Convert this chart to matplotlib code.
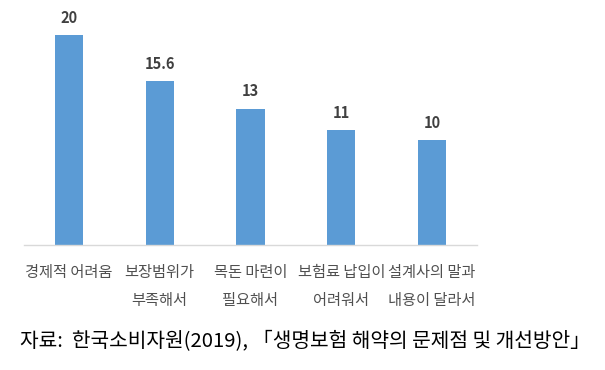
import matplotlib
matplotlib.use("Agg")
import matplotlib.pyplot as plt
from matplotlib.transforms import offset_copy

plt.rcParams['font.family'] = ['Noto Sans CJK KR', 'DejaVu Sans']

categories = ["경제적 어려움", "보장범위가\n부족해서", "목돈 마련이\n필요해서",
              "보험료 납입이\n어려워서", "설계사의 말과\n내용이 달라서"]
values = [20, 15.6, 13, 11, 10]
value_labels = ["20", "15.6", "13", "11", "10"]
source = "자료:  한국소비자원(2019), 「생명보험 해약의 문제점 및 개선방안」"

fig = plt.figure(figsize=(6.05, 3.7), dpi=100)
ax = fig.add_axes([23.6 / 605, 125 / 370, 453.75 / 605, 231 / 370])

x = list(range(len(values)))
ax.bar(x, values, width=0.31, color="#5B9BD5", zorder=2)
ax.set_xlim(-0.5, 4.5)
ax.set_ylim(0, 22)

for s in ["top", "right", "left"]:
    ax.spines[s].set_visible(False)
ax.spines["bottom"].set_color("#D9D9D9")
ax.spines["bottom"].set_linewidth(1.0)
ax.set_yticks([])
ax.set_xticks([])

for xi, v, lab in zip(x, values, value_labels):
    tr = offset_copy(ax.transData, fig=fig, x=0, y=9, units="dots")
    ax.text(xi, v, lab, transform=tr, ha="center", va="bottom",
            fontsize=10.5, fontweight="bold", color="#404040")

for xi, cat in zip(x, categories):
    tr = offset_copy(ax.transData, fig=fig, x=0, y=-19, units="dots")
    ax.text(xi, 0, cat, transform=tr, ha="center", va="top",
            fontsize=11, color="#505050", linespacing=1.85)

fig.text(20 / 605, 1 - 342 / 370, source, ha="left", va="center",
         fontsize=14.6, color="black")

fig.savefig("out.png", dpi=100, facecolor="white")
